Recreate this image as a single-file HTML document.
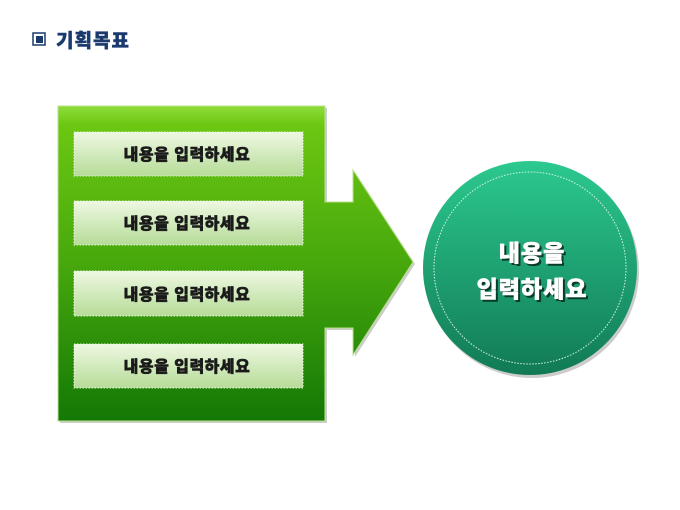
<!DOCTYPE html>
<html><head><meta charset="utf-8"><style>
html,body{margin:0;padding:0;background:#fff;width:680px;height:510px;overflow:hidden}
svg{display:block}
text{font-family:"Liberation Sans","Noto Sans CJK KR",sans-serif;font-weight:900}
</style></head><body>
<svg width="680" height="510" viewBox="0 0 680 510">
<defs>
<linearGradient id="g" x1="0" y1="0" x2="0" y2="1">
<stop offset="0" stop-color="#8fdc3a"/>
<stop offset="0.06" stop-color="#6cc712"/>
<stop offset="0.5" stop-color="#47a80c"/>
<stop offset="1" stop-color="#137806"/>
</linearGradient>
<linearGradient id="b" x1="0" y1="0" x2="0" y2="1">
<stop offset="0" stop-color="#eef8e2"/>
<stop offset="1" stop-color="#b6dc98"/>
</linearGradient>
<linearGradient id="c" x1="0" y1="0" x2="0" y2="1">
<stop offset="0" stop-color="#2cc98f"/>
<stop offset="1" stop-color="#117a55"/>
</linearGradient>
</defs>
<rect x="33" y="33" width="12" height="12" fill="#fff" stroke="#1a3a6e" stroke-width="1.5"/>
<rect x="36" y="36" width="7" height="7" fill="#1a3a6e"/>
<text x="56" y="47" font-size="19" letter-spacing="1" fill="#1a3a6e" stroke="#1a3a6e" stroke-width="0.4">기획목표</text>
<path d="M60 108 H327 V204 H355 V172 L415 264 L355 357 V330 H327 V423 H60 Z" fill="#aaa" opacity="0.6"/>
<path d="M58 106 H325 V202 H353 V170 L413 262 L353 355 V328 H325 V421 H58 Z" fill="url(#g)" stroke="#b8e08a" stroke-width="1"/>
<g stroke="#e8f4dc" stroke-width="1" stroke-dasharray="1.5 1.5" fill="url(#b)">
<rect x="74" y="132" width="229" height="44"/>
<rect x="74" y="201" width="229" height="44"/>
<rect x="74" y="271" width="229" height="45"/>
<rect x="74" y="344" width="229" height="44"/>
</g>
<g font-size="16" letter-spacing="0.5" fill="#1a1a1a" stroke="#1a1a1a" stroke-width="0.5" text-anchor="middle">
<text x="187" y="160">내용을 입력하세요</text>
<text x="187" y="229">내용을 입력하세요</text>
<text x="187" y="300">내용을 입력하세요</text>
<text x="187" y="372">내용을 입력하세요</text>
</g>
<circle cx="532" cy="271" r="107" fill="#999" opacity="0.5"/>
<circle cx="530" cy="268" r="107" fill="url(#c)"/>
<circle cx="530" cy="268" r="96" fill="none" stroke="#d8f4e8" stroke-width="1" stroke-dasharray="1.5 1.5"/>
<g font-size="23" letter-spacing="1" text-anchor="middle">
<text x="534" y="263" fill="#0a3a28" stroke="#0a3a28" stroke-width="0.6">내용을</text>
<text x="534" y="299" fill="#0a3a28" stroke="#0a3a28" stroke-width="0.6">입력하세요</text>
<text x="532" y="261" fill="#fff" stroke="#fff" stroke-width="0.6">내용을</text>
<text x="532" y="297" fill="#fff" stroke="#fff" stroke-width="0.6">입력하세요</text>
</g>
</svg>
</body></html>
